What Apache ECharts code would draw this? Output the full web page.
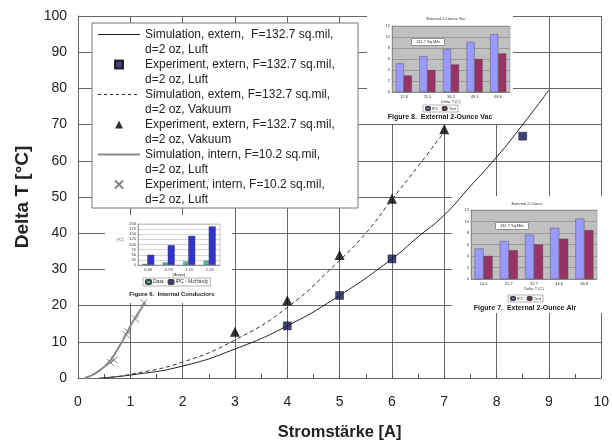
<!DOCTYPE html>
<html>
<head>
<meta charset="utf-8">
<script src="https://cdn.jsdelivr.net/npm/echarts@6/dist/echarts.min.js"></script>
<style>
  html, body { margin: 0; padding: 0; background: #fff; }
  #chart { width: 612px; height: 446px; }
</style>
</head>
<body>
<div id="chart"></div>
<script>
// Hauptdiagramm: Delta T über Stromstärke
const simExtLuftX = [0.4, 1, 2, 3, 4, 5, 6, 6.5, 7, 7.5, 8, 8.5, 9];
const simExtLuftY = [0, 0.8, 3.3, 8, 14.4, 22.8, 32.9, 39, 45, 53, 61, 70, 79.5];
const expExtLuftX = [4, 5, 6, 8.5];
const expExtLuftY = [14.4, 22.8, 32.9, 66.8];
const simExtVakX = [0.5, 1, 2, 3, 4, 5, 5.5, 6, 6.5, 7];
const simExtVakY = [0, 1, 4.4, 10.5, 19.5, 32.5, 40, 49.3, 58.5, 68];
const expExtVakX = [3, 4, 5, 6, 7];
const expExtVakY = [12.8, 21.5, 34, 49.5, 68.7];
const simIntX = [0.13, 0.3, 0.45, 0.6, 0.75, 0.9, 1.0, 1.1, 1.2, 1.28];
const simIntY = [0, 1, 2.5, 4.5, 7.8, 11.5, 14.3, 16.8, 19, 21];
const expIntX = [0.62, 0.69, 0.92, 0.95, 1.1, 1.26];
const expIntY = [4.3, 5, 12, 12.8, 16.3, 20.8];

// eingebettete Abbildungen
const fig8Cats = ["12.8", "21.5", "34.2", "49.3", "68.6"];
const fig8Ipc = [5.2, 6.5, 7.8, 9.1, 10.5];
const fig8Test = [3, 4, 5, 6, 7];
const fig7Cats = ["14.5", "22.7", "32.7", "44.6", "66.8"];
const fig7Ipc = [5.3, 6.6, 7.7, 8.9, 10.5];
const fig7Test = [4, 5, 6, 7, 8.5];
const fig6Cats = ["0.69", "0.93", "1.15", "1.26"];
const fig6Data = [4.5, 12.5, 16.5, 20.8];
const fig6Ipc = [50, 97, 142, 188];

const names = [
  "Simulation, extern,  F=132.7 sq.mil, d=2 oz, Luft",
  "Experiment, extern, F=132.7 sq.mil, d=2 oz, Luft",
  "Simulation, extern, F=132.7 sq.mil, d=2 oz, Vakuum",
  "Experiment, extern, F=132.7 sq.mil, d=2 oz, Vakuum",
  "Simulation, intern, F=10.2 sq.mil, d=2 oz, Luft",
  "Experiment, intern, F=10.2 sq.mil, d=2 oz, Luft"
];

function pairs(xs, ys) {
  return xs.map((x, i) => [x, ys[i]]);
}

const font = "Liberation Sans, Arial, sans-serif";
const squareIcon = "path://M0,0L10,0L10,10L0,10Z";
const triangleIcon = "path://M5,0L10,10L0,10Z";
const crossIcon = "path://M0,0L10,10M10,0L0,10";
// Linien-Symbole für die Legende (dünne Rechtecke)
const solidIcon = "path://M0,0L42,0L42,1L0,1Z";
const thickIcon = "path://M0,0L42,0L42,2L0,2Z";
let dashIcon = "path://";
for (let x = 0; x < 42; x += 6) {
  dashIcon += "M" + x + ",0L" + (x + 3) + ",0L" + (x + 3) + ",1L" + x + ",1Z";
}
dashIcon += "M0,0M42,1";
const chart = echarts.init(document.getElementById("chart"));

// kleine Achsen für die Abbildungen
function miniX(grid, cats) {
  return {
    type: "category", gridIndex: grid, data: cats, z: 3,
    axisLine: { lineStyle: { color: "#666", width: 0.5 } },
    axisTick: { show: false },
    axisLabel: { fontSize: 4, color: "#333", margin: 3, fontFamily: font },
    name: grid === 3 ? "(Amps)" : "Delta T (C)", nameLocation: "middle", nameGap: 7,
    nameTextStyle: { fontSize: 4, color: "#333", fontFamily: font }
  };
}
function miniY(grid, max, interval) {
  return {
    type: "value", gridIndex: grid, min: 0, max: max, interval: interval, z: 3,
    axisLine: { show: true, lineStyle: { color: "#666", width: 0.5 } },
    axisTick: { show: false },
    axisLabel: { fontSize: 4, color: "#333", margin: 2, fontFamily: font },
    splitLine: { lineStyle: { color: grid === 3 ? "#aaa" : "#777", width: 0.5 } }
  };
}
function bar(name, grid, data, color, width) {
  return {
    name: name, type: "bar", xAxisIndex: grid, yAxisIndex: grid, data: data,
    barWidth: width, barGap: "0%", z: 4, silent: true,
    itemStyle: { color: color, borderColor: "#444", borderWidth: 0.4 }
  };
}

const option = {
  animation: false,
  backgroundColor: "#fff",
  grid: [
    { left: 78, right: 8, top: 16, bottom: 63 },
    { left: 392, top: 26, width: 118, height: 66, show: true, z: 3, backgroundColor: "#c0c0c0", borderColor: "#888", borderWidth: 0.5 },
    { left: 471, top: 210, width: 126, height: 69, show: true, z: 3, backgroundColor: "#c0c0c0", borderColor: "#888", borderWidth: 0.5 },
    { left: 138, top: 224, width: 82, height: 41, show: true, z: 3, backgroundColor: "#fff", borderColor: "#888", borderWidth: 0.5 }
  ],
  xAxis: [
    {
      type: "value", min: 0, max: 10, interval: 1,
      axisLine: { lineStyle: { color: "#666" } },
      axisTick: { show: true, inside: true, length: 4, lineStyle: { color: "#555" } },
      minorTick: { show: true, splitNumber: 2, length: 4, lineStyle: { color: "#555" } },
      axisLabel: { fontSize: 14, color: "#222", margin: 17, fontFamily: font },
      splitLine: { lineStyle: { color: "#666" } },
      name: "Stromstärke [A]", nameLocation: "middle", nameGap: 46,
      nameTextStyle: { fontSize: 16.5, fontWeight: "bold", color: "#222", fontFamily: font }
    },
    miniX(1, fig8Cats), miniX(2, fig7Cats), miniX(3, fig6Cats)
  ],
  yAxis: [
    {
      type: "value", min: 0, max: 100, interval: 10,
      axisLine: { show: true, lineStyle: { color: "#666" } },
      axisTick: { show: false },
      axisLabel: { fontSize: 14, color: "#222", margin: 11, fontFamily: font },
      splitLine: { lineStyle: { color: "#666" } },
      name: "Delta T [°C]", nameLocation: "middle", nameGap: 46,
      nameTextStyle: { fontSize: 19, fontWeight: "bold", color: "#222", fontFamily: font }
    },
    miniY(1, 12, 2), miniY(2, 12, 2), miniY(3, 200, 25)
  ],
  legend: [
    {
      data: [
        { name: names[0], icon: solidIcon },
        { name: names[1], icon: squareIcon },
        { name: names[2], icon: dashIcon },
        { name: names[3], icon: triangleIcon },
        { name: names[4], icon: thickIcon },
        { name: names[5], icon: crossIcon }
      ],
      orient: "vertical", left: 98, top: 12, padding: 0,
      itemWidth: 42, itemHeight: 8, itemGap: -15, symbolKeepAspect: true,
      selectedMode: false,
      formatter: (n) => "\n" + n.replace(", d=2", ",\nd=2"),
      textStyle: { fontSize: 12, lineHeight: 15, color: "#222", fontFamily: font }
    },
    {
      data: ["IPC", "Test"], left: 423, top: 105, padding: [1, 2], itemGap: 3,
      itemWidth: 4, itemHeight: 3, selectedMode: false, borderColor: "#666", borderWidth: 0.5,
      textStyle: { fontSize: 4, color: "#333", fontFamily: font, padding: [0, 0, 0, -3] }
    },
    {
      data: ["IPC", "Test"], left: 508, top: 295, padding: [1, 2], itemGap: 3,
      itemWidth: 4, itemHeight: 3, selectedMode: false, borderColor: "#666", borderWidth: 0.5,
      textStyle: { fontSize: 4, color: "#333", fontFamily: font, padding: [0, 0, 0, -3] }
    },
    {
      data: ["Data", "IPC - McHardy"], left: 143, top: 278, padding: [1, 2], itemGap: 4,
      itemWidth: 5, itemHeight: 4, selectedMode: false, borderColor: "#666", borderWidth: 0.5,
      textStyle: { fontSize: 5, color: "#333", fontFamily: font, padding: [0, 0, 0, -3] }
    }
  ],
  graphic: [
    // weiße Flächen der Abbildungen und des Legendenrahmens
    { type: "rect", z: 1, shape: { x: 92, y: 23, width: 266, height: 185 }, style: { fill: "#fff", stroke: "#777", lineWidth: 1 } },
    { type: "rect", z: 1, shape: { x: 367, y: 6, width: 146, height: 118 }, style: { fill: "#fff" } },
    { type: "rect", z: 1, shape: { x: 452, y: 196, width: 160, height: 117 }, style: { fill: "#fff" } },
    { type: "rect", z: 1, shape: { x: 105, y: 215, width: 127, height: 88 }, style: { fill: "#fff" } },
    // Beschriftungen
    { type: "text", z: 5, x: 446, y: 17, style: { text: "External 2-Ounce Vac", fill: "#333", align: "center", font: "4px " + font } },
    { type: "text", z: 5, x: 527, y: 202, style: { text: "External 2-Ounce", fill: "#333", align: "center", font: "4px " + font } },
    { type: "text", z: 5, x: 440, y: 114, style: { text: "Figure 8.  External 2-Ounce Vac", fill: "#222", align: "center", font: "bold 7px " + font } },
    { type: "text", z: 5, x: 525, y: 305, style: { text: "Figure 7.  External 2-Ounce Air", fill: "#222", align: "center", font: "bold 7px " + font } },
    { type: "text", z: 5, x: 172, y: 291, style: { text: "Figure 6.  Internal Conductors", fill: "#222", align: "center", font: "bold 6px " + font } },
    { type: "text", z: 5, x: 120, y: 238, style: { text: "(°C)", fill: "#333", align: "center", font: "4px " + font } },
    { type: "text", z: 5, x: 428, y: 39, style: { text: "132.7 Sq.Mils", fill: "#333", align: "center", font: "4px " + font, backgroundColor: "#fff", borderColor: "#666", borderWidth: 0.5, padding: [1, 4] } },
    { type: "text", z: 5, x: 512, y: 223, style: { text: "132.7 Sq.Mils", fill: "#333", align: "center", font: "4px " + font, backgroundColor: "#fff", borderColor: "#666", borderWidth: 0.5, padding: [1, 4] } }
  ],
  series: [
    {
      name: names[0], type: "line", smooth: true, symbol: "none",
      data: pairs(simExtLuftX, simExtLuftY),
      lineStyle: { color: "#222", width: 1 }, itemStyle: { color: "#222" }
    },
    {
      name: names[1], type: "scatter", symbol: "rect", symbolSize: 8,
      data: pairs(expExtLuftX, expExtLuftY),
      itemStyle: { color: "#14145a", borderColor: "#000", borderWidth: 0.5 }
    },
    {
      name: names[2], type: "line", smooth: true, symbol: "none",
      data: pairs(simExtVakX, simExtVakY),
      lineStyle: { color: "#333", width: 1, type: [4, 3] }, itemStyle: { color: "#333" }
    },
    {
      name: names[3], type: "scatter", symbol: "triangle", symbolSize: 10,
      data: pairs(expExtVakX, expExtVakY),
      itemStyle: { color: "#000" }
    },
    {
      name: names[4], type: "line", smooth: true, symbol: "none",
      data: pairs(simIntX, simIntY),
      lineStyle: { color: "#8a8a8a", width: 2 }, itemStyle: { color: "#8a8a8a" }
    },
    {
      name: names[5], type: "scatter", symbol: crossIcon, symbolSize: 7,
      data: pairs(expIntX, expIntY),
      itemStyle: { color: "transparent", borderColor: "#666", borderWidth: 1 }
    },
    bar("IPC", 1, fig8Ipc, "#9999ff", 8),
    bar("Test", 1, fig8Test, "#993366", 8),
    bar("IPC", 2, fig7Ipc, "#9999ff", 9),
    bar("Test", 2, fig7Test, "#993366", 9),
    bar("Data", 3, fig6Data, "#33cc99", 5),
    bar("IPC - McHardy", 3, fig6Ipc, "#3333cc", 7)
  ]
};

chart.setOption(option);
</script>
</body>
</html>
